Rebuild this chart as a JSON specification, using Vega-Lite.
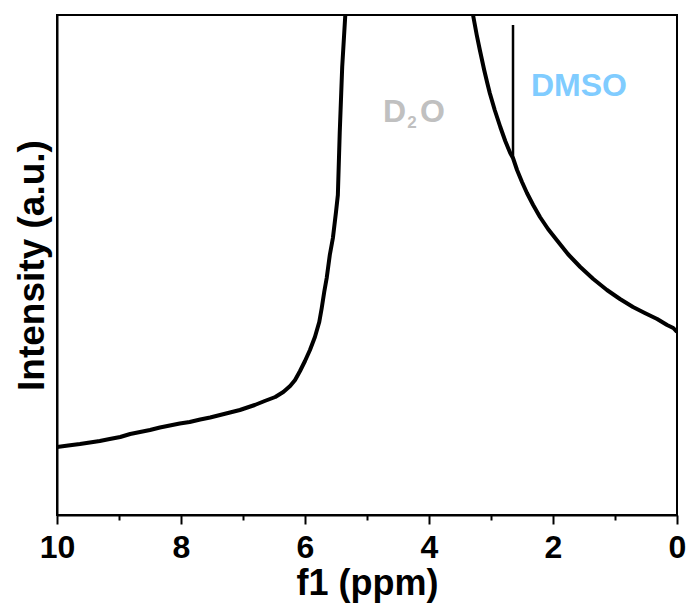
{
  "$schema": "https://vega.github.io/schema/vega-lite/v6.json",
  "width": 620,
  "height": 500,
  "autosize": "none",
  "padding": {"left": 57, "top": 15, "right": 14, "bottom": 93},
  "background": "white",
  "config": {
    "font": "Liberation Sans",
    "view": {"stroke": "black", "strokeWidth": 2}
  },
  "datasets": {
    "spectrum": [
      {"ppm": 10.0, "intensity": 13.6},
      {"ppm": 9.82, "intensity": 13.9},
      {"ppm": 9.63, "intensity": 14.2},
      {"ppm": 9.47, "intensity": 14.5},
      {"ppm": 9.31, "intensity": 14.8},
      {"ppm": 9.15, "intensity": 15.2},
      {"ppm": 8.98, "intensity": 15.6},
      {"ppm": 8.82, "intensity": 16.2},
      {"ppm": 8.66, "intensity": 16.6},
      {"ppm": 8.5, "intensity": 17.0},
      {"ppm": 8.34, "intensity": 17.5},
      {"ppm": 8.18, "intensity": 17.9},
      {"ppm": 8.02, "intensity": 18.3},
      {"ppm": 7.86, "intensity": 18.6},
      {"ppm": 7.69, "intensity": 19.1},
      {"ppm": 7.53, "intensity": 19.5},
      {"ppm": 7.37, "intensity": 20.0},
      {"ppm": 7.21, "intensity": 20.5},
      {"ppm": 7.05, "intensity": 21.0},
      {"ppm": 6.93, "intensity": 21.5},
      {"ppm": 6.81, "intensity": 22.0},
      {"ppm": 6.65, "intensity": 22.8},
      {"ppm": 6.48, "intensity": 23.6},
      {"ppm": 6.35, "intensity": 24.6},
      {"ppm": 6.24, "intensity": 25.8},
      {"ppm": 6.16, "intensity": 27.0},
      {"ppm": 6.08, "intensity": 28.8},
      {"ppm": 6.0, "intensity": 30.8},
      {"ppm": 5.92, "intensity": 33.0},
      {"ppm": 5.84, "intensity": 35.6},
      {"ppm": 5.77, "intensity": 38.6},
      {"ppm": 5.73, "intensity": 41.4},
      {"ppm": 5.69, "intensity": 44.6},
      {"ppm": 5.65, "intensity": 47.4},
      {"ppm": 5.6, "intensity": 52.0},
      {"ppm": 5.55, "intensity": 55.4},
      {"ppm": 5.5, "intensity": 60.6},
      {"ppm": 5.47, "intensity": 64.0},
      {"ppm": 5.44, "intensity": 76.4},
      {"ppm": 5.4, "intensity": 89.6},
      {"ppm": 5.35, "intensity": 100.0},
      {"ppm": 5.3, "intensity": 115.0},
      {"ppm": 3.36, "intensity": 115.0},
      {"ppm": 3.29, "intensity": 100.0},
      {"ppm": 3.23, "intensity": 96.0},
      {"ppm": 3.18, "intensity": 93.0},
      {"ppm": 3.11, "intensity": 89.0},
      {"ppm": 3.06, "intensity": 86.4},
      {"ppm": 3.02, "intensity": 84.4},
      {"ppm": 2.94, "intensity": 81.0},
      {"ppm": 2.85, "intensity": 77.6},
      {"ppm": 2.77, "intensity": 74.8},
      {"ppm": 2.69, "intensity": 72.4},
      {"ppm": 2.645, "intensity": 71.4},
      {"ppm": 2.58, "intensity": 69.0},
      {"ppm": 2.5, "intensity": 66.6},
      {"ppm": 2.42, "intensity": 64.4},
      {"ppm": 2.32, "intensity": 62.0},
      {"ppm": 2.21, "intensity": 59.6},
      {"ppm": 2.08, "intensity": 57.2},
      {"ppm": 1.94, "intensity": 55.0},
      {"ppm": 1.76, "intensity": 52.2},
      {"ppm": 1.56, "intensity": 49.6},
      {"ppm": 1.35, "intensity": 47.2},
      {"ppm": 1.13, "intensity": 45.0},
      {"ppm": 0.92, "intensity": 43.2},
      {"ppm": 0.71, "intensity": 41.6},
      {"ppm": 0.52, "intensity": 40.4},
      {"ppm": 0.32, "intensity": 39.2},
      {"ppm": 0.16, "intensity": 38.0},
      {"ppm": 0.06, "intensity": 37.4},
      {"ppm": 0.0, "intensity": 36.6}
    ]
  },
  "encoding": {
    "x": {
      "field": "ppm",
      "type": "quantitative",
      "scale": {"domain": [0, 10], "reverse": true, "nice": false, "zero": false},
      "axis": {
        "title": "f1 (ppm)",
        "values": [0, 1, 2, 3, 4, 5, 6, 7, 8, 9, 10],
        "labelExpr": "datum.value % 2 === 0 ? datum.label : ''",
        "grid": false,
        "domainColor": "black",
        "domainWidth": 2,
        "tickColor": "black",
        "tickWidth": 2,
        "tickSize": {"condition": {"test": "datum.value % 2 === 0", "value": 9}, "value": 5},
        "labelFontSize": 32,
        "labelFontWeight": "bold",
        "labelColor": "black",
        "labelPadding": 8,
        "labelFlush": false,
        "labelOverlap": false,
        "titleFontSize": 36,
        "titleFontWeight": "bold",
        "titleColor": "black",
        "titlePadding": 3
      }
    },
    "y": {
      "field": "intensity",
      "type": "quantitative",
      "scale": {"domain": [0, 100], "nice": false, "zero": false},
      "axis": {
        "title": "Intensity (a.u.)",
        "ticks": false,
        "labels": false,
        "grid": false,
        "domainColor": "black",
        "domainWidth": 2,
        "titleFontSize": 37,
        "titleFontWeight": "bold",
        "titleColor": "black",
        "titlePadding": 6
      }
    }
  },
  "layer": [
    {
      "data": {"name": "spectrum"},
      "mark": {"type": "line", "color": "black", "strokeWidth": 4, "clip": true, "strokeJoin": "round"}
    },
    {
      "data": {"values": [{"ppm": 2.645, "base": 71.4, "top": 98.0}]},
      "mark": {"type": "rule", "color": "black", "strokeWidth": 2.5},
      "encoding": {
        "x": {"field": "ppm", "type": "quantitative"},
        "y": {"field": "base", "type": "quantitative"},
        "y2": {"field": "top"}
      }
    },
    {
      "data": {"values": [{"ppm": 2.355, "intensity": 83.8, "label": "DMSO"}]},
      "mark": {"type": "text", "align": "left", "baseline": "alphabetic", "fontSize": 32, "fontWeight": "bold", "color": "#80CCFF"},
      "encoding": {"text": {"field": "label"}}
    },
    {
      "data": {"values": [{"ppm": 4.74, "intensity": 78.6, "label": "D"}, {"ppm": 4.145, "intensity": 78.6, "label": "O"}]},
      "mark": {"type": "text", "align": "left", "baseline": "alphabetic", "fontSize": 32, "fontWeight": "bold", "color": "#C0C0C0"},
      "encoding": {"text": {"field": "label"}}
    },
    {
      "data": {"values": [{"ppm": 4.35, "intensity": 77.4, "label": "2"}]},
      "mark": {"type": "text", "align": "left", "baseline": "alphabetic", "fontSize": 17, "fontWeight": "bold", "color": "#C0C0C0"},
      "encoding": {"text": {"field": "label"}}
    }
  ]
}
